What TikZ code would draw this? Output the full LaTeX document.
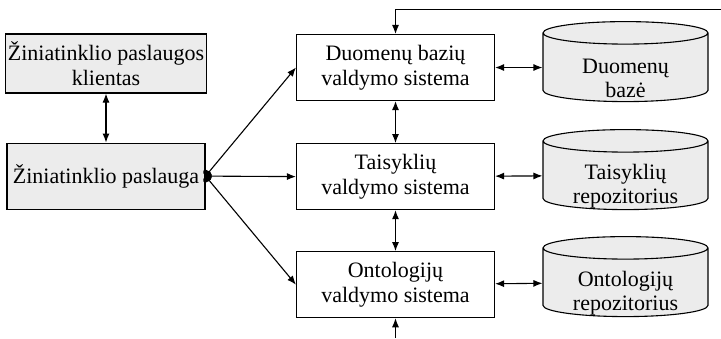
\documentclass[tikz,border=0pt]{standalone}
\usepackage{fontspec}
\setmainfont{Liberation Serif}
\usetikzlibrary{positioning,shapes.geometric,arrows.meta}

\begin{document}
\begin{tikzpicture}[x=1pt,y=-1pt,>={Latex[length=9pt,width=7pt]},
	box/.style={draw,line width=1.1pt,align=center,minimum width=198pt,minimum height=66pt,inner sep=2pt,font=\fontsize{22}{25}\selectfont},
	graybox/.style={box,fill=gray!15},
	db/.style={draw,line width=1.1pt,cylinder,shape border rotate=90,aspect=0.15,fill=gray!15,minimum width=165pt,minimum height=80pt,text width=150pt,inner sep=0pt,anchor=center},
	dbtext/.style={align=center,inner sep=0pt,font=\fontsize{22}{24}\selectfont,yshift=-11pt},
	link/.style={line width=1.1pt,<->}]
	\useasboundingbox (0,0) rectangle (721,338);
	\node[graybox,minimum height=59pt] (client) at (106,63.5) {Žiniatinklio paslaugos\\klientas};
	\node[graybox] (ws) [below=49pt of client] {Žiniatinklio paslauga};
	\node[box] (dbvs) at (395.5,67.5) {Duomenų bazių\\valdymo sistema};
	\node[box] (tvs) [below=42pt of dbvs] {Taisyklių\\valdymo sistema};
	\node[box] (ovs) [below=41pt of tvs] {Ontologijų\\valdymo sistema};
	\node[db] (dbb) at (625.5,67.5) {};
	\node[db] (trep) at (625.5,175.5) {};
	\node[db] (orep) at (625.5,282.5) {};
	\node[dbtext] (dbbtext) at (dbb.center) {Duomenų\\bazė};
	\node[dbtext] (treptext) at (trep.center) {Taisyklių\\repozitorius};
	\node[dbtext] (oreptext) at (orep.center) {Ontologijų\\repozitorius};
	\coordinate (topend) at (721,9.5);
	\coordinate (botend) at (395.5,338);
	\path[link]
	(client) edge (ws)
	(dbvs) edge (tvs)
	(tvs) edge (ovs)
	(dbvs) edge (dbb)
	(tvs) edge (trep)
	(ovs) edge (orep)
	(ws.east) edge[{Circle[length=6pt,width=10pt]}->] (dbvs.west)
	(ws.east) edge[{Circle[length=6pt,width=10pt]}->] (tvs.west)
	(ws.east) edge[{Circle[length=6pt,width=10pt]}->] (ovs.west);
	\draw[line width=1.1pt,->] (topend) -| (dbvs.north);
	\draw[line width=1.1pt,->] (botend) -- (ovs.south);
\end{tikzpicture}
\end{document}
